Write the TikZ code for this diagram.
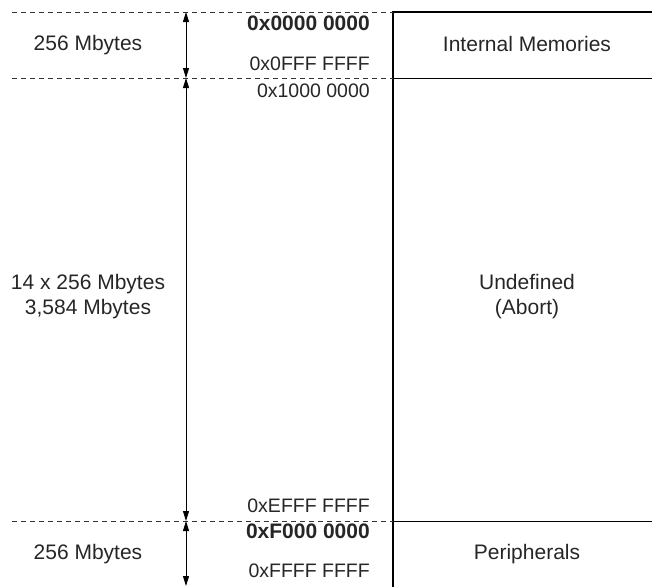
\documentclass[tikz,border=0pt]{standalone}
\usepackage{fontspec}
\setmainfont{Liberation Sans}
\usetikzlibrary{arrows.meta,positioning}

\begin{document}
\begin{tikzpicture}[x=1pt,y=-1pt,
        every node/.style={font=\fontsize{21}{25}\selectfont,text=black!85},
        addr/.style={anchor=base east,inner sep=0pt,font=\fontsize{19.5}{22}\selectfont},
        addrbold/.style={anchor=base east,inner sep=0pt,font=\fontsize{21}{24}\selectfont\bfseries},
        sep/.style={dashed,dash pattern=on 5pt off 4pt,black!80,line width=1pt},
        span/.style={{Triangle[length=10pt,width=6pt]}-{Triangle[length=10pt,width=6pt]},line width=0.9pt}]
        \useasboundingbox (0,0) rectangle (652,587);

        % Boundaries of the regions
        \coordinate (l0) at (12,12);  \coordinate (b0) at (393,12);  \coordinate (r0) at (652,12);
        \coordinate (l1) at (12,78);  \coordinate (b1) at (393,78);  \coordinate (r1) at (652,78);
        \coordinate (l2) at (12,521); \coordinate (b2) at (393,521); \coordinate (r2) at (652,521);
        \coordinate (b3) at (393,587);

        % Memory map box
        \draw[line width=1.8pt] (r0) -- (b0) -- (b3);
        \draw[line width=1pt] (b1) -- (r1);
        \draw[line width=1pt] (b2) -- (r2);

        % Dashed separators
        \draw[sep] (l0) -- (b0);
        \draw[sep] (l1) -- (b1);
        \draw[sep] (l2) -- (b2);

        % Size arrows
        \coordinate (a0) at (186,12);
        \coordinate (a1) at (186,78);
        \coordinate (a2) at (186,521);
        \coordinate (a3) at (186,586);
        \draw[span] (a0) -- (a1);
        \draw[span] (a1) -- (a2);
        \draw[span] (a2) -- (a3);

        % Region names
        \node[anchor=base] (intmem) at (527,51) {Internal Memories};
        \node[align=center] (undef) at (527,297) {Undefined\\(Abort)};
        \node[anchor=base] (periph) at (527,559) {Peripherals};

        % Region sizes
        \node[anchor=base] (size1) at (88,50) {256 Mbytes};
        \node[align=center] (size2) at (88,297) {14 x 256 Mbytes\\3,584 Mbytes};
        \node[anchor=base] (size3) at (88,559) {256 Mbytes};

        % Addresses
        \node[addrbold] (s0) at (370,30) {0x0000 0000};
        \node[addr] (e0) at (370,70) {0x0FFF FFFF};
        \node[addr] (s1) at (370,97) {0x1000 0000};
        \node[addr] (e1) at (370,512) {0xEFFF FFFF};
        \node[addrbold] (s2) at (370,538) {0xF000 0000};
        \node[addr] (e2) at (370,577) {0xFFFF FFFF};
    \end{tikzpicture}
\end{document}
